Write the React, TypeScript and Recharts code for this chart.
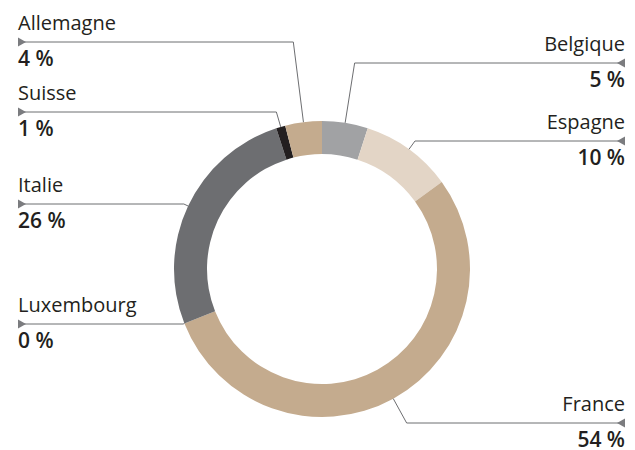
import { PieChart, Pie, Cell } from "recharts";

const countries = ["Belgique", "Espagne", "France", "Luxembourg", "Italie", "Suisse", "Allemagne"];
const shares = [5, 10, 54, 0, 26, 1, 4];
const sliceColors = ["#a1a2a4", "#e3d5c6", "#c4ab8e", "#c4ab8e", "#6d6e71", "#231f20", "#c4ab8e"];

// where each leader line runs horizontally, and to which side it goes
const labelLayout: Record<string, { lineY: number; side: "left" | "right" }> = {
  Belgique: { lineY: 63, side: "right" },
  Espagne: { lineY: 141, side: "right" },
  France: { lineY: 423, side: "right" },
  Luxembourg: { lineY: 324, side: "left" },
  Italie: { lineY: 204, side: "left" },
  Suisse: { lineY: 112, side: "left" },
  Allemagne: { lineY: 42, side: "left" },
};

const data = countries.map((name, i) => ({ name, value: shares[i] }));

const RADIAN = Math.PI / 180;
const LEFT_X = 18;
const RIGHT_X = 625;
const FONT = "'Open Sans', sans-serif";

const renderLabel = (props: any) => {
  const { cx, cy, midAngle, outerRadius, name, value } = props;
  const layout = labelLayout[name];
  if (!layout) return null;
  const dx = Math.cos(-midAngle * RADIAN);
  const dy = Math.sin(-midAngle * RADIAN);
  const px = cx + outerRadius * dx;
  const py = cy + outerRadius * dy;
  const y = layout.lineY;
  let ex = px;
  if (Math.abs(dy) > 0.05) {
    const t = (y - py) / dy;
    if (t > 0) ex = px + t * dx;
  }
  const left = layout.side === "left";
  const endX = left ? LEFT_X : RIGHT_X;
  const tri = left
    ? `${endX},${y - 4.5} ${endX + 8},${y} ${endX},${y + 4.5}`
    : `${endX},${y - 4.5} ${endX - 8},${y} ${endX},${y + 4.5}`;
  return (
    <g key={`label-${name}`}>
      <polyline
        points={`${px},${py} ${ex},${y} ${endX},${y}`}
        fill="none"
        stroke="#6d6e71"
        strokeWidth={1}
      />
      <polygon points={tri} fill="#7b7c7f" />
      <text
        x={endX}
        y={y - 12}
        textAnchor={left ? "start" : "end"}
        fontFamily={FONT}
        fontSize={20}
        fill="#231f20"
      >
        {name}
      </text>
      <text
        x={endX}
        y={y + 24}
        textAnchor={left ? "start" : "end"}
        fontFamily={FONT}
        fontSize={21}
        fontWeight={600}
        fill="#231f20"
      >
        {`${value} %`}
      </text>
    </g>
  );
};

export default function App() {
  return (
    <div style={{ position: "absolute", left: 0, top: 0 }}>
      <PieChart width={635} height={450} margin={{ top: 0, right: 0, bottom: 0, left: 0 }}>
        <Pie
          data={data}
          dataKey="value"
          nameKey="name"
          cx={322}
          cy={269}
          outerRadius={148}
          innerRadius={115}
          startAngle={90}
          endAngle={-270}
          stroke="none"
          label={renderLabel}
          labelLine={false}
          isAnimationActive={false}
        >
          {data.map((entry, index) => (
            <Cell key={`cell-${index}`} fill={sliceColors[index]} />
          ))}
        </Pie>
      </PieChart>
    </div>
  );
}
